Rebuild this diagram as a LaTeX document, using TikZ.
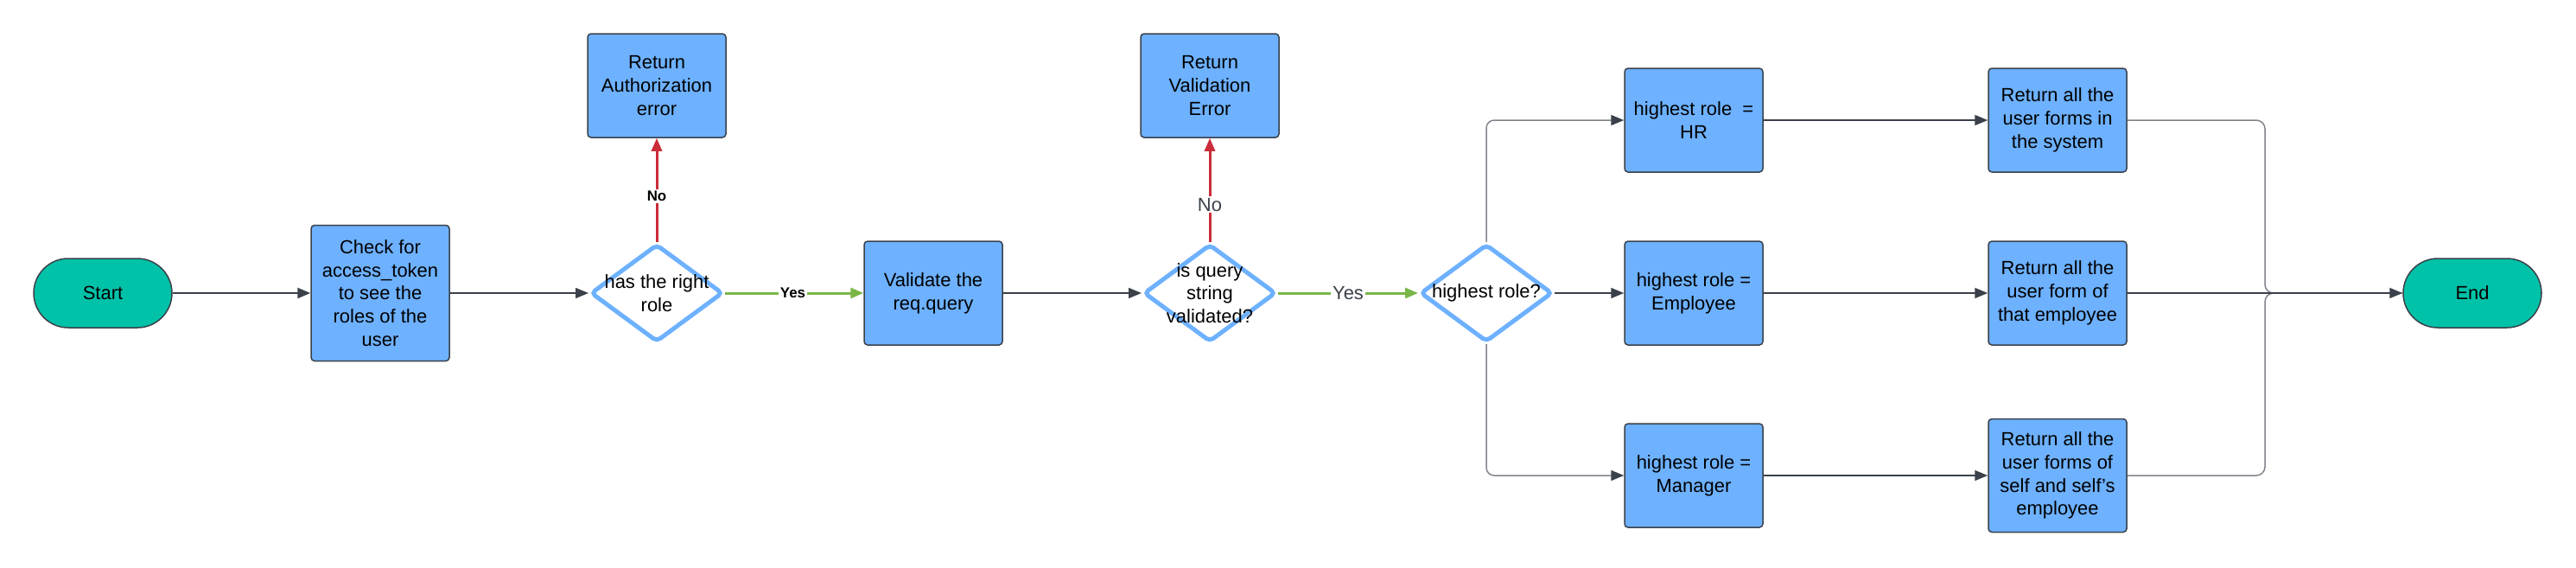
\documentclass[tikz,border=0pt]{standalone}
\usepackage{fontspec}
\setmainfont{Liberation Sans}
\usepackage{tikz}
\usepackage{xcolor}
\usetikzlibrary{shapes.geometric,arrows.meta}

\definecolor{boxblue}{HTML}{6DB1FF}
\definecolor{termteal}{HTML}{00C2A8}
\definecolor{linedark}{HTML}{3A414A}
\definecolor{linegray}{HTML}{7F848A}
\definecolor{nored}{HTML}{C92D39}
\definecolor{yesgreen}{HTML}{7AB648}

\begin{document}
\begin{tikzpicture}[
  font=\fontsize{12.5pt}{15.2pt}\selectfont,
  proc/.style={draw=linedark,fill=boxblue,rectangle,rounded corners=0.08cm,line width=0.03cm,minimum width=3.2cm,minimum height=2.4cm,inner sep=0pt,align=center},
  term/.style={draw=linedark,fill=termteal,rectangle,rounded corners=0.8cm,line width=0.03cm,minimum width=3.2cm,minimum height=1.6cm},
  decision/.style={draw=boxblue,fill=white,diamond,line width=0.1cm,rounded corners=0.1cm,minimum width=3.06cm,minimum height=2.26cm,inner sep=0pt},
  tip/.style={-{Triangle[length=0.3cm,width=0.24cm]}},
  flow/.style={tip,draw=linedark,line width=0.03cm},
  branch/.style={-{Triangle[length=0.3cm,width=0.24cm,color=linedark]},draw=linegray,line width=0.03cm,rounded corners=0.18cm},
  nopath/.style={tip,draw=nored,line width=0.06cm},
  yespath/.style={tip,draw=yesgreen,line width=0.06cm},
  tag/.style={fill=white,inner sep=1pt}
]
\useasboundingbox (0,0) rectangle (59.62,-13.12);

% main row
\node[term] (start) at (2.38,-6.78) {Start};
\node[proc,minimum height=3.14cm] (check) at (8.80,-6.78) {Check for\\access\_token\\to see the\\roles of the\\user};
\node[decision,label={[align=center]center:has the right\\role}] (role) at (15.20,-6.78) {};
\node[proc] (autherr) at (15.20,-1.98) {Return\\Authorization\\error};
\node[proc] (validate) at (21.60,-6.78) {Validate the\\req.query};
\node[decision,label={[align=center]center:is query\\string\\validated?}] (query) at (28.00,-6.78) {};
\node[proc] (valerr) at (28.00,-1.98) {Return\\Validation\\Error};
\node[decision,label={center:highest role?}] (highest) at (34.40,-6.78) {};

% roles
\node[proc] (hr) at (39.20,-2.78) {highest role\ \ =\\HR};
\node[proc] (emp) at (39.20,-6.78) {highest role =\\Employee};
\node[proc] (mgr) at (39.20,-11.00) {highest role =\\Manager};

% results
\node[proc] (rethr) at (47.62,-2.78) {Return all the\\user forms in\\the system};
\node[proc] (retemp) at (47.62,-6.78) {Return all the\\user form of\\that employee};
\node[proc,minimum height=2.62cm] (retmgr) at (47.62,-11.00) {Return all the\\user forms of\\self and self's\\employee};
\node[term] (end) at (57.22,-6.78) {End};
\coordinate (join) at (52.42,-6.78);

\draw[flow,line width=0.05cm] (start) -- (check);
\draw[flow] (check) -- (role.west);
\draw[nopath] (role.north) -- (autherr) node[tag,pos=0.44,font=\fontsize{9.6pt}{11pt}\selectfont\bfseries] {No};
\draw[yespath] (role.east) -- (validate) node[tag,pos=0.49,font=\fontsize{9.6pt}{11pt}\selectfont\bfseries] {Yes};
\draw[flow] (validate) -- (query.west);
\draw[nopath] (query.north) -- (valerr) node[tag,pos=0.36,text=linedark] {No};
\draw[yespath] (query.east) -- (highest.west) node[tag,pos=0.5,text=linedark] {Yes};

\draw[branch] (highest.north) |- (hr);
\draw[flow] (highest.east) -- (emp);
\draw[branch] (highest.south) |- (mgr);

\draw[flow] (hr) -- (rethr);
\draw[flow] (emp) -- (retemp);
\draw[flow] (mgr) -- (retmgr);

\draw[linegray,line width=0.03cm,rounded corners=0.2cm] (rethr.east) -| (join) -- (end.west);
\draw[linegray,line width=0.03cm,rounded corners=0.2cm] (retmgr.east) -| (join) -- (end.west);
\draw[flow] (retemp) -- (end);
\end{tikzpicture}
\end{document}
